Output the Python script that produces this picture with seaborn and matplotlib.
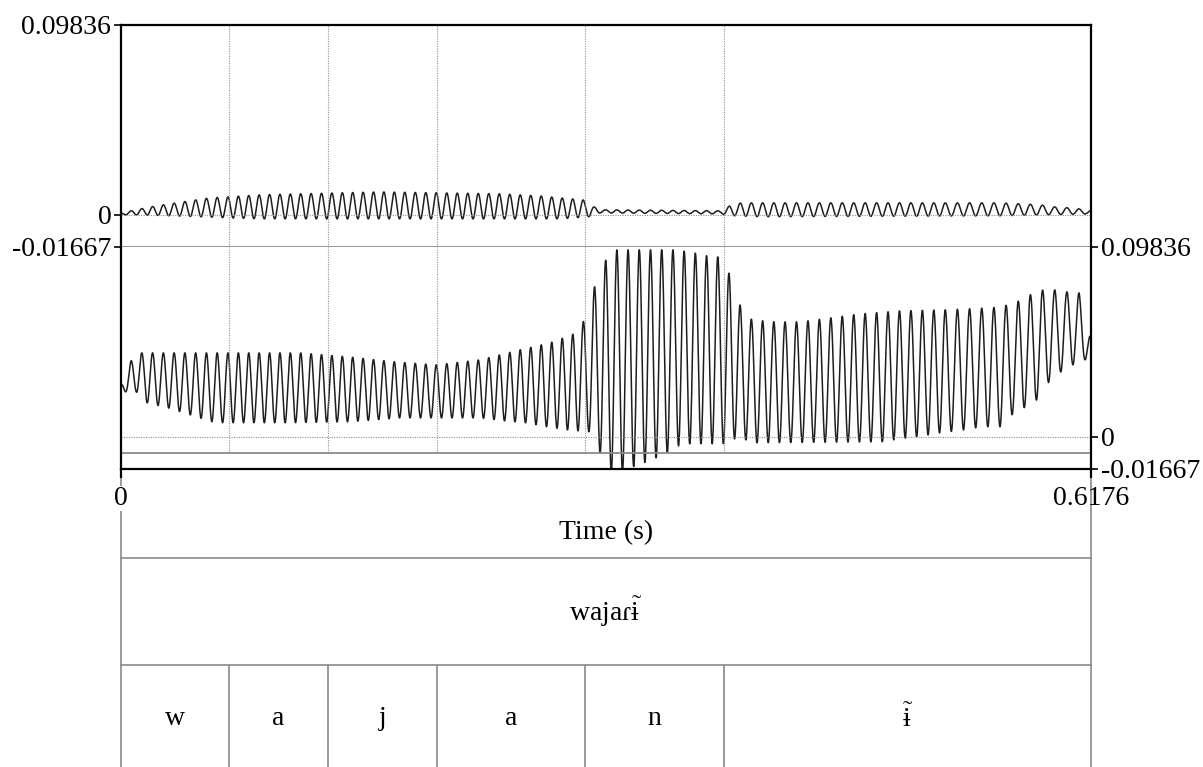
import numpy as np
import pandas as pd
import seaborn as sns
import matplotlib.pyplot as plt

# time axis and amplitude range (s, Pa-like units as printed)
dur = 0.6176
y_min, y_max = -0.01667, 0.09836

# interval boundaries (s) and labels of the two tiers
bounds = [0.0688, 0.1318, 0.2012, 0.2954, 0.3839]
phones = ['w', 'a', 'j', 'a', 'n', r'$\tilde{\mathrm{ɨ}}$']
word = r'wajaɾ$\tilde{\mathrm{ɨ}}$'

# times of some waveform peaks and their cycle number
peak_t = [0.0, 0.0064, 0.0681, 0.1740, 0.2943, 0.4228, 0.5248, 0.6100, 0.6176]
peak_n = [-0.93, 0, 9, 25, 43, 61, 75, 86, 86.99]

# lower channel: upper and lower envelope of the oscillation
lo_top_t = [0.0, 0.0064, 0.0127, 0.0681, 0.1140, 0.1458, 0.1738, 0.2006, 0.2286, 0.2540,
            0.2731, 0.2801, 0.2872, 0.2941, 0.3012, 0.3082, 0.3158, 0.3515, 0.3623, 0.3731,
            0.3801, 0.3878, 0.3948, 0.4018, 0.4164, 0.4323, 0.4514, 0.4705, 0.4960, 0.5246,
            0.5520, 0.5597, 0.5692, 0.5788, 0.5870, 0.5947, 0.6023, 0.6100, 0.6176]
lo_top_v = [0.0269, 0.0394, 0.0435, 0.0435, 0.0435, 0.0414, 0.0389, 0.0373, 0.0399, 0.0451,
            0.0487, 0.0508, 0.0528, 0.0591, 0.0772, 0.0912, 0.0969, 0.0969, 0.0958, 0.0938,
            0.0932, 0.0839, 0.0668, 0.0606, 0.0596, 0.0596, 0.0616, 0.0637, 0.0653, 0.0658,
            0.0668, 0.0673, 0.0694, 0.0736, 0.0761, 0.0761, 0.0751, 0.0746, 0.0513]
lo_bot_t = [0.0, 0.0096, 0.0166, 0.0299, 0.0439, 0.0579, 0.0649, 0.1076, 0.1458, 0.1776,
            0.2286, 0.2439, 0.2572, 0.2712, 0.2840, 0.2980, 0.3050, 0.3120, 0.3190, 0.3260,
            0.3330, 0.3406, 0.3476, 0.3546, 0.3623, 0.3840, 0.3909, 0.3979, 0.4049, 0.4845,
            0.4960, 0.5062, 0.5138, 0.5215, 0.5367, 0.5444, 0.5520, 0.5597, 0.5673, 0.5749,
            0.5832, 0.5909, 0.5985, 0.6061, 0.6138, 0.6176]
lo_bot_v = [0.0233, 0.0233, 0.0176, 0.0150, 0.0114, 0.0078, 0.0073, 0.0073, 0.0078, 0.0098,
            0.0098, 0.0083, 0.0073, 0.0052, 0.0036, 0.0026, -0.0083, -0.0181, -0.0181, -0.0155,
            -0.0135, -0.0109, -0.0083, -0.0047, -0.0036, -0.0036, -0.0010, -0.0016, -0.0031, -0.0026,
            -0.0010, 0.0, 0.0010, 0.0021, 0.0036, 0.0047, 0.0052, 0.0052, 0.0114, 0.0150,
            0.0192, 0.0285, 0.0337, 0.0373, 0.0399, 0.0399]

# upper channel envelopes
up_top_t = [0.0, 0.0064, 0.0185, 0.0312, 0.0439, 0.0567, 0.0681, 0.0885, 0.1140, 0.1649,
            0.2031, 0.2413, 0.2668, 0.2795, 0.2941, 0.3012, 0.3082, 0.3814, 0.3878, 0.3948,
            0.5597, 0.5851, 0.5947, 0.6042, 0.6100, 0.6176]
up_top_v = [0.0010, 0.0021, 0.0041, 0.0057, 0.0073, 0.0088, 0.0093, 0.0104, 0.0109, 0.0119,
            0.0114, 0.0109, 0.0098, 0.0088, 0.0078, 0.0041, 0.0026, 0.0021, 0.0047, 0.0062,
            0.0062, 0.0052, 0.0041, 0.0036, 0.0031, 0.0021]
up_bot_t = [0.0, 0.0121, 0.0503, 0.0694, 0.0885, 0.2795, 0.2980, 0.3050, 0.3814, 0.3909,
            0.4068, 0.5597, 0.6176]
up_bot_v = [0.0, 0.0, -0.0010, -0.0016, -0.0021, -0.0021, -0.0010, 0.0010, 0.0005, -0.0005,
            -0.0010, -0.0005, 0.0005]

t = np.linspace(0, dur, 20000)
carrier = np.cos(2 * np.pi * np.interp(t, peak_t, peak_n))


def trace(top_t, top_v, bot_t, bot_v):
    top = np.interp(t, top_t, top_v)
    bot = np.interp(t, bot_t, bot_v)
    return (top + bot) / 2 + (top - bot) / 2 * carrier


df = pd.DataFrame({'time': t,
                   'up': trace(up_top_t, up_top_v, up_bot_t, up_bot_v),
                   'lo': trace(lo_top_t, lo_top_v, lo_bot_t, lo_bot_v)})

sns.set_style('white')
plt.rcParams['font.family'] = ['Liberation Serif', 'DejaVu Serif']
plt.rcParams['font.size'] = 20
plt.rcParams['text.color'] = 'black'
plt.rcParams['mathtext.fontset'] = 'custom'
plt.rcParams['mathtext.rm'] = 'Liberation Serif'
plt.rcParams['mathtext.it'] = 'Liberation Serif:italic'
plt.rcParams['mathtext.bf'] = 'Liberation Serif:bold'

W, H = 1203, 767
fig = plt.figure(figsize=(W / 100, H / 100), dpi=100)


def box(x0, y0, x1, y1):
    return [x0 / W, 1 - y1 / H, (x1 - x0) / W, (y1 - y0) / H]


ax_up = fig.add_axes(box(121, 25, 1091, 247))
ax_lo = fig.add_axes(box(121, 247, 1091, 469))
ax_time = fig.add_axes(box(121, 469, 1091, 558))
ax_t1 = fig.add_axes(box(121, 558, 1091, 665))
ax_t2 = fig.add_axes(box(121, 665, 1091, 772))
ax_lo.set_zorder(5)

gray = '#8a8a8a'
dot = dict(color='#909090', lw=0.8, ls=(0, (1, 1.2)))
floor_lo = -0.0083

sns.lineplot(data=df, x='time', y='up', ax=ax_up, color='#1e1e1e', lw=1.1,
             estimator=None, errorbar=None)
sns.lineplot(data=df, x='time', y='lo', ax=ax_lo, color='#1e1e1e', lw=1.1,
             estimator=None, errorbar=None)

for ax in (ax_up, ax_lo):
    ax.set_xlim(0, dur)
    ax.set_ylim(y_min, y_max)
    ax.set_xlabel('')
    ax.set_ylabel('')
    ax.axhline(0, **dot)
    for s in ax.spines.values():
        s.set_color('black')
        s.set_linewidth(1.6)

ax_up.vlines(bounds, y_min, y_max, **dot)
ax_lo.vlines(bounds, floor_lo, y_max, **dot)
ax_lo.axhline(floor_lo, color=gray, lw=1.3)

ax_up.spines['bottom'].set_color(gray)
ax_up.spines['bottom'].set_linewidth(1.3)
ax_lo.spines['top'].set_visible(False)

yt = [y_min, 0, y_max]
ylab = ['-0.01667', '0', '0.09836']
ax_up.set_yticks(yt, ylab)
ax_up.set_xticks([])
ax_up.tick_params(axis='y', left=True, length=5, width=1.2, pad=2, labelsize=20, colors='black')

ax_lo.set_yticks(yt, ylab)
ax_lo.yaxis.tick_right()
ax_lo.tick_params(axis='y', right=True, left=False, length=5, width=1.2, pad=2,
                  labelsize=20, colors='black')
ax_lo.set_xticks([0, dur], ['0', '0.6176'])
ax_lo.tick_params(axis='x', bottom=True, length=6.5, width=1.6, pad=6, labelsize=20,
                  colors='black')
ax_lo.get_xticklabels()[0].set_bbox(dict(facecolor='white', edgecolor='none', pad=0))

for ax in (ax_time, ax_t1, ax_t2):
    ax.set_xlim(0, dur)
    ax.set_ylim(0, 1)
    ax.set_xticks([])
    ax.set_yticks([])
    ax.patch.set_visible(False)
    for s in ax.spines.values():
        s.set_color(gray)
        s.set_linewidth(1.2)
    ax.spines['top'].set_visible(False)
ax_t2.spines['bottom'].set_visible(False)

ax_time.text(dur / 2, 0.29, 'Time (s)', ha='center', va='center', fontsize=20)
ax_t1.text(dur / 2, 0.5, word, ha='center', va='center', fontsize=20)

edges = [0.0] + bounds + [dur]
for b in bounds:
    ax_t2.axvline(b, color=gray, lw=1.2)
for lab, a, b in zip(phones, edges[:-1], edges[1:]):
    ax_t2.text((a + b) / 2, 0.5, lab, ha='center', va='center', fontsize=20)

fig.savefig('out.png', dpi=100)
